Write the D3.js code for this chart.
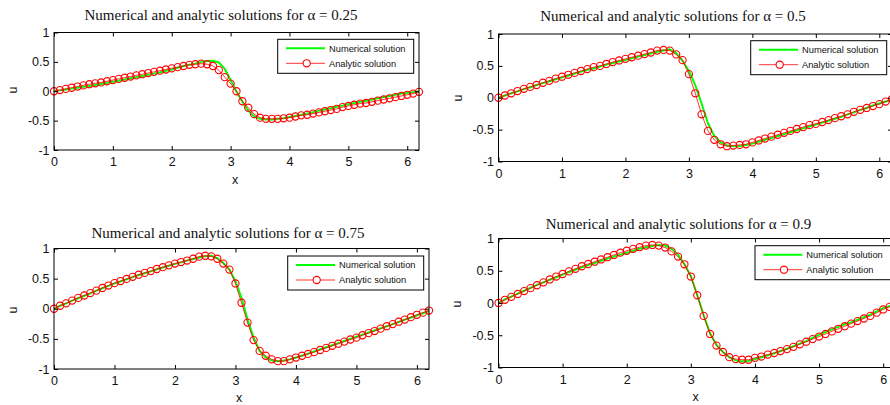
<!DOCTYPE html>
<html>
<head>
<meta charset="utf-8">
<script src="https://cdn.jsdelivr.net/npm/d3@7"></script>
<style>
  body { margin: 0; background: #fff; }
  svg { display: block; }
  .tick text { font-family: "Liberation Sans", Arial, sans-serif; font-size: 12.5px; fill: #111; }
  .tick line { stroke: #000; stroke-width: 1; }
  .title { font-family: "Liberation Serif", "Times New Roman", serif; font-size: 15px; fill: #111; }
  .lab { font-family: "Liberation Sans", Arial, sans-serif; font-size: 12.5px; fill: #111; }
  .leg text { font-family: "Liberation Sans", Arial, sans-serif; font-size: 9.3px; fill: #111; }
</style>
</head>
<body>
<div id="chart"></div>
<script>
// x grid of the solutions
const xs = [0.0, 0.1, 0.2, 0.3, 0.4, 0.5, 0.6, 0.7, 0.8, 0.9,
  1.0, 1.1, 1.2, 1.3, 1.4, 1.5, 1.6, 1.7, 1.8, 1.9,
  2.0, 2.1, 2.2, 2.3, 2.4, 2.5, 2.6, 2.7, 2.8, 2.9,
  3.0, 3.1, 3.2, 3.3, 3.4, 3.5, 3.6, 3.7, 3.8, 3.9,
  4.0, 4.1, 4.2, 4.3, 4.4, 4.5, 4.6, 4.7, 4.8, 4.9,
  5.0, 5.1, 5.2, 5.3, 5.4, 5.5, 5.6, 5.7, 5.8, 5.9,
  6.0, 6.1, 6.2];

// alpha = 0.25
const num25 = [0, .015, .03, .045, .06, .075, .09, .105, .125, .14,
  .16, .18, .20, .22, .24, .26, .28, .30, .32, .35,
  .37, .40, .43, .45, .47, .50, .515, .52, .49, .38,
  .19, -.01, -.18, -.33, -.43, -.47, -.48, -.48, -.47, -.46,
  -.44, -.42, -.40, -.38, -.355, -.33, -.31, -.29, -.265, -.245,
  -.22, -.20, -.18, -.16, -.14, -.12, -.10, -.08, -.06, -.04,
  -.03, -.015, 0];
const ana25 = [0, .02, .04, .06, .08, .10, .12, .135, .15, .17,
  .19, .21, .23, .25, .27, .29, .31, .33, .35, .37,
  .39, .41, .43, .45, .46, .47, .46, .43, .36, .24,
  .13, .00, -.17, -.28, -.39, -.45, -.47, -.47, -.47, -.46,
  -.45, -.43, -.41, -.40, -.38, -.36, -.34, -.32, -.30, -.27,
  -.25, -.23, -.21, -.20, -.18, -.16, -.14, -.12, -.10, -.08,
  -.06, -.04, -.01];

// alpha = 0.5
const num50 = [0, .035, .07, .10, .135, .165, .20, .23, .26, .29,
  .32, .35, .38, .41, .44, .46, .49, .52, .545, .57,
  .59, .62, .645, .67, .695, .72, .74, .76, .70, .58,
  .42, .20, -.09, -.40, -.60, -.70, -.75, -.76, -.755, -.74,
  -.72, -.69, -.66, -.63, -.60, -.57, -.54, -.51, -.48, -.45,
  -.42, -.39, -.36, -.33, -.30, -.26, -.23, -.19, -.16, -.12,
  -.09, -.06, -.03];
const ana50 = [0, .035, .07, .105, .14, .17, .20, .235, .265, .30,
  .33, .36, .39, .42, .45, .48, .50, .53, .56, .585,
  .61, .635, .66, .685, .71, .74, .75, .74, .68, .59,
  .37, .07, -.26, -.52, -.66, -.73, -.76, -.75, -.74, -.73,
  -.70, -.67, -.64, -.61, -.58, -.55, -.52, -.49, -.46, -.43,
  -.41, -.38, -.35, -.32, -.29, -.26, -.22, -.19, -.16, -.13,
  -.10, -.06, -.02];

// alpha = 0.75
const num75 = [0, .05, .09, .135, .175, .215, .255, .30, .34, .38,
  .42, .455, .49, .525, .56, .59, .62, .655, .685, .715,
  .745, .77, .80, .825, .85, .87, .88, .84, .76, .65,
  .46, .18, -.18, -.48, -.70, -.81, -.86, -.87, -.86, -.84,
  -.81, -.78, -.745, -.71, -.675, -.64, -.605, -.57, -.535, -.50,
  -.465, -.43, -.395, -.36, -.325, -.29, -.255, -.22, -.18, -.145,
  -.11, -.075, -.04];
const ana75 = [0, .05, .09, .135, .18, .22, .26, .30, .345, .385,
  .425, .46, .495, .53, .565, .595, .625, .66, .69, .72,
  .75, .775, .80, .83, .865, .88, .87, .83, .75, .65,
  .42, .10, -.23, -.52, -.70, -.78, -.84, -.87, -.87, -.84,
  -.81, -.78, -.75, -.72, -.685, -.65, -.615, -.58, -.545, -.51,
  -.48, -.44, -.405, -.37, -.33, -.29, -.255, -.215, -.18, -.14,
  -.10, -.065, -.03];

// alpha = 0.9
const num90 = [0, .055, .10, .145, .19, .235, .28, .32, .36, .40,
  .44, .48, .52, .555, .59, .62, .655, .69, .72, .75,
  .78, .81, .84, .865, .885, .90, .89, .84, .75, .60,
  .42, .12, -.19, -.47, -.65, -.76, -.84, -.89, -.905, -.90,
  -.87, -.84, -.81, -.78, -.745, -.71, -.67, -.63, -.59, -.54,
  -.49, -.45, -.41, -.37, -.33, -.30, -.26, -.22, -.18, -.13,
  -.08, -.05, -.02];
const ana90 = [0, .05, .095, .14, .185, .23, .275, .32, .365, .41,
  .45, .49, .53, .57, .605, .64, .675, .71, .745, .78,
  .81, .84, .865, .89, .90, .89, .86, .80, .72, .60,
  .41, .12, -.20, -.48, -.66, -.76, -.84, -.87, -.88, -.88,
  -.85, -.83, -.80, -.775, -.745, -.715, -.68, -.64, -.60, -.56,
  -.52, -.48, -.44, -.40, -.36, -.32, -.28, -.24, -.20, -.15,
  -.10, -.06, -.03];

const alphas = ["0.25", "0.5", "0.75", "0.9"];
const xTicks = [0, 1, 2, 3, 4, 5, 6];
const yTicks = [-1, -0.5, 0, 0.5, 1];
const legendLabels = ["Numerical solution", "Analytic solution"];

// layout of the four subplots (box = left, top, right, bottom)
const layout = [
  {box: [54, 32.5, 419, 150], title: [221, 20], xlab: [235, 183.5], ylab: [17, 90], leg: [277.7, 39.3]},
  {box: [498.5, 34, 892, 161.5], title: [673, 20.5], xlab: null, ylab: [462, 98], leg: [750.7, 40.7]},
  {box: [54, 248.5, 429, 369], title: [228, 238.3], xlab: [239, 402], ylab: [17, 310], leg: [287.7, 256]},
  {box: [498.5, 238.5, 896, 367.5], title: [678.5, 229], xlab: [695.7, 401], ylab: [461, 304], leg: [755, 245.7]}
];
const numSeries = [num25, num50, num75, num90];
const anaSeries = [ana25, ana50, ana75, ana90];

const width = 890, height = 405;
const green = "#00ff00", red = "#ff0000";

const svg = d3.select("#chart").append("svg")
  .attr("width", width)
  .attr("height", height);

layout.forEach(function (p, k) {
  const [l, t, r, b] = p.box;
  const x = d3.scaleLinear().domain([0, 6.2]).range([l, r]);
  const y = d3.scaleLinear().domain([-1, 1]).range([b, t]);

  const g = svg.append("g");

  const line = d3.line()
    .x((d, i) => x(xs[i]))
    .y(d => y(d));

  // numerical solution
  g.append("path")
    .datum(numSeries[k])
    .attr("d", line)
    .attr("fill", "none")
    .attr("stroke", green)
    .attr("stroke-width", 2);

  // analytic solution: thin line + circles
  g.append("path")
    .datum(anaSeries[k])
    .attr("d", line)
    .attr("fill", "none")
    .attr("stroke", red)
    .attr("stroke-width", 0.8);

  g.selectAll("circle.m")
    .data(anaSeries[k])
    .enter().append("circle")
    .attr("class", "m")
    .attr("cx", (d, i) => x(xs[i]))
    .attr("cy", d => y(d))
    .attr("r", 3.6)
    .attr("fill", "none")
    .attr("stroke", red)
    .attr("stroke-width", 1.1);

  // axes, ticks pointing inwards
  const fmt = d => String(d);
  g.append("g").attr("transform", "translate(0," + b + ")")
    .call(d3.axisBottom(x).tickValues(xTicks).tickSize(-4).tickPadding(7.5).tickFormat(fmt));
  g.append("g").attr("transform", "translate(0," + t + ")")
    .call(d3.axisTop(x).tickValues(xTicks).tickSize(-4).tickFormat(""));
  g.append("g").attr("transform", "translate(" + l + ",0)")
    .call(d3.axisLeft(y).tickValues(yTicks).tickSize(-4).tickPadding(4.5).tickFormat(fmt));
  g.append("g").attr("transform", "translate(" + r + ",0)")
    .call(d3.axisRight(y).tickValues(yTicks).tickSize(-4).tickFormat(""));
  g.selectAll(".domain").remove();
  g.selectAll(".tick text").attr("font-family", null).attr("font-size", null);

  g.append("rect")
    .attr("x", l).attr("y", t)
    .attr("width", r - l).attr("height", b - t)
    .attr("fill", "none")
    .attr("stroke", "#000")
    .attr("stroke-width", 1);

  // title and labels
  g.append("text")
    .attr("class", "title")
    .attr("x", p.title[0]).attr("y", p.title[1])
    .attr("text-anchor", "middle")
    .text("Numerical and analytic solutions for α = " + alphas[k]);

  if (p.xlab) {
    g.append("text")
      .attr("class", "lab")
      .attr("x", p.xlab[0]).attr("y", p.xlab[1])
      .attr("text-anchor", "middle")
      .text("x");
  }
  g.append("text")
    .attr("class", "lab")
    .attr("transform", "translate(" + p.ylab[0] + "," + p.ylab[1] + ") rotate(-90)")
    .attr("text-anchor", "middle")
    .text("u");

  // legend
  const leg = g.append("g").attr("class", "leg")
    .attr("transform", "translate(" + p.leg[0] + "," + p.leg[1] + ")");
  leg.append("rect")
    .attr("width", 136).attr("height", 34)
    .attr("fill", "#fff")
    .attr("stroke", "#000")
    .attr("stroke-width", 1);
  leg.append("line")
    .attr("x1", 8.3).attr("x2", 47.3).attr("y1", 9).attr("y2", 9)
    .attr("stroke", green).attr("stroke-width", 2);
  leg.append("line")
    .attr("x1", 8.3).attr("x2", 47.3).attr("y1", 24).attr("y2", 24)
    .attr("stroke", red).attr("stroke-width", 0.8);
  leg.append("circle")
    .attr("cx", 29).attr("cy", 24).attr("r", 3.6)
    .attr("fill", "#fff").attr("stroke", red).attr("stroke-width", 1.1);
  leg.selectAll("text")
    .data(legendLabels)
    .enter().append("text")
    .attr("x", 51.3)
    .attr("y", (d, i) => 9 + i * 15)
    .attr("dy", "0.35em")
    .text(d => d);
});
</script>
</body>
</html>
